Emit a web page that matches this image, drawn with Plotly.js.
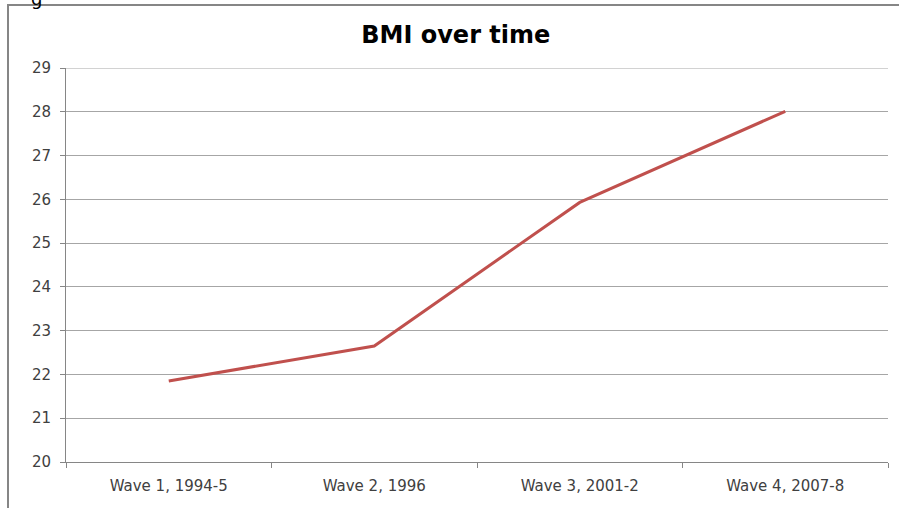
<!DOCTYPE html>
<html>
<head>
<meta charset="utf-8">
<script src="https://cdn.plot.ly/plotly-3.0.1.min.js"></script>
<style>html,body{margin:0;padding:0;background:#fff;}#chart{width:899px;height:508px;}</style>
</head>
<body>
<div id="chart"></div>
<script>
const categories = ["Wave 1, 1994-5", "Wave 2, 1996", "Wave 3, 2001-2", "Wave 4, 2007-8"];
const bmiValues = [21.85, 22.65, 25.93, 28.01];
const yTickValues = [20, 21, 22, 23, 24, 25, 26, 27, 28, 29];

const trace = {
  type: "scatter",
  mode: "lines",
  x: categories,
  y: bmiValues,
  line: {color: "#c0504d", width: 3},
  hoverinfo: "x+y"
};

const yTop = yTickValues[yTickValues.length - 1];

const layout = {
  width: 899,
  height: 508,
  margin: {l: 66, r: 11, t: 68, b: 46},
  paper_bgcolor: "#ffffff",
  plot_bgcolor: "#ffffff",
  showlegend: false,
  font: {family: "DejaVu Sans, sans-serif", color: "#404040", size: 14},
  title: {
    text: "<b>BMI over time</b>",
    font: {family: "DejaVu Sans, sans-serif", size: 24, color: "#000000"},
    x: 0.507, xanchor: "center",
    y: 0.932, yanchor: "middle"
  },
  xaxis: {
    type: "category",
    range: [-0.5, 3.5],
    tickson: "boundaries",
    ticks: "outside",
    ticklen: 5,
    tickcolor: "#868686",
    showline: true,
    linecolor: "#868686",
    linewidth: 1,
    showgrid: false,
    zeroline: false,
    ticklabelstandoff: 10,
    tickfont: {family: "DejaVu Sans, sans-serif", size: 15, color: "#404040"}
  },
  yaxis: {
    range: [20, 29],
    tickvals: yTickValues,
    ticks: "outside",
    ticklen: 5,
    tickcolor: "#868686",
    showline: true,
    linecolor: "#868686",
    linewidth: 1,
    showgrid: true,
    gridcolor: "#a6a6a6",
    gridwidth: 1,
    zeroline: false,
    ticklabelstandoff: 6,
    tickfont: {family: "DejaVu Sans, sans-serif", size: 15, color: "#404040"}
  },
  shapes: [
    {type: "rect", xref: "paper", yref: "paper",
     x0: (8 - 66) / 822, x1: (905 - 66) / 822,
     y0: (462 - 520) / 394, y1: (462 - 5) / 394,
     line: {color: "#868686", width: 2}, fillcolor: "rgba(0,0,0,0)", layer: "below"},
    {type: "line", xref: "paper", yref: "y",
     x0: 0, x1: 1, y0: yTop, y1: yTop,
     line: {color: "#a6a6a6", width: 1}, layer: "below"}
  ],
  annotations: [
    {text: "g", xref: "paper", yref: "paper", showarrow: false,
     x: (36 - 66) / 822, y: (462 + 2) / 394, xanchor: "center", yanchor: "middle",
     font: {family: "DejaVu Sans, sans-serif", size: 18, color: "#000000"}}
  ]
};

Plotly.newPlot("chart", [trace], layout, {displayModeBar: false, staticPlot: true});
</script>
</body>
</html>
